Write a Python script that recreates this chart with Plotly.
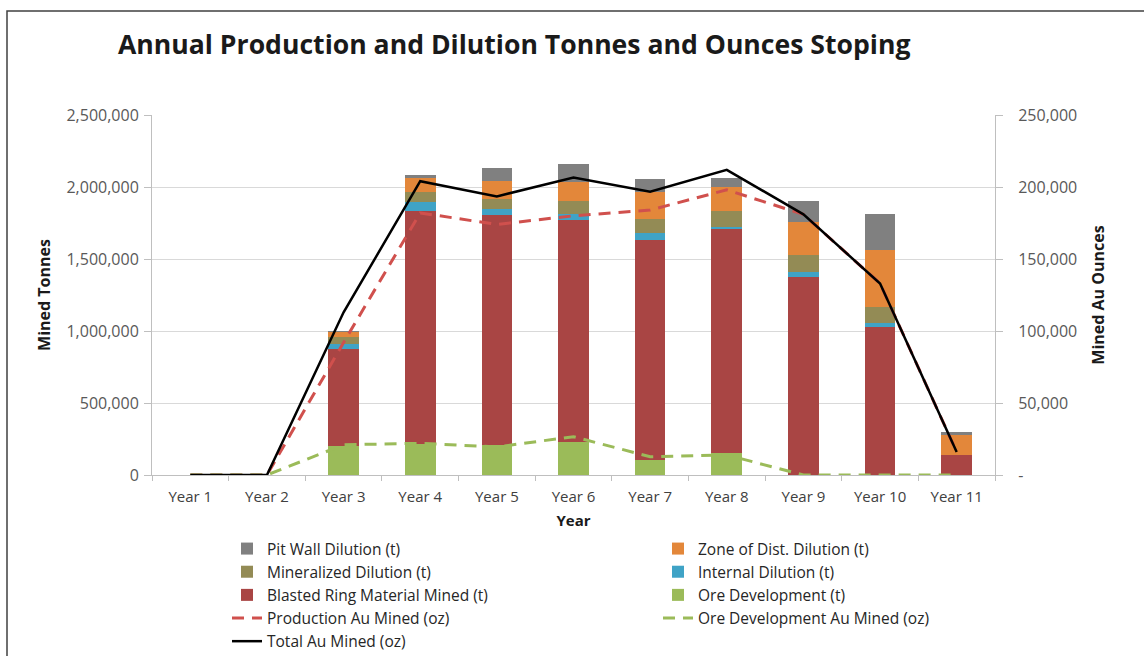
import plotly.graph_objects as go

years = ["Year 1", "Year 2", "Year 3", "Year 4", "Year 5", "Year 6",
         "Year 7", "Year 8", "Year 9", "Year 10", "Year 11"]

# Tonnes by material type (stacked, bottom to top)
ore_development_t = [0, 0, 201000, 215000, 208000, 228000, 104000, 155000, 0, 0, 0]
blasted_ring_t = [0, 0, 672000, 1620000, 1598000, 1543000, 1528000, 1553000, 1377000, 1030000, 139000]
internal_dilution_t = [0, 0, 35000, 63000, 41000, 39000, 46000, 16000, 35000, 23000, 0]
mineralized_dilution_t = [0, 0, 52000, 65000, 70000, 95000, 100000, 107000, 116000, 116000, 0]
zone_dist_dilution_t = [0, 0, 35000, 97000, 125000, 128000, 190000, 171000, 227000, 393000, 139000]
pit_wall_dilution_t = [0, 0, 5000, 23000, 88000, 127000, 90000, 58000, 148000, 248000, 23000]

# Gold ounces (secondary axis)
production_au_oz = [0, 0, 92000, 182000, 174000, 180000, 184000, 198000, 181000, 133000, 16000]
ore_dev_au_oz = [0, 0, 21000, 22000, 19500, 26600, 12700, 13900, 0, 0, 0]
total_au_oz = [0, 0, 113000, 204000, 193500, 206600, 196700, 211900, 181000, 133000, 16000]

left_ticks = [0, 500000, 1000000, 1500000, 2000000, 2500000]
left_tick_text = ["0", "500,000", "1,000,000", "1,500,000", "2,000,000", "2,500,000"]
right_ticks = [0, 50000, 100000, 150000, 200000, 250000]
right_tick_text = ["-", "50,000", "100,000", "150,000", "200,000", "250,000"]

FONT = "Open Sans"
W, H = 1144, 656
PL, PR, PT, PB = 152, 995, 115, 475  # plot area edges in pixels


def px_x(p):
    return (p - PL) / (PR - PL)


def px_y(p):
    return (PB - p) / (PB - PT)


fig = go.Figure()

# (name, values, colour, legend, rank)
bars = [
    ("Ore Development (t)", ore_development_t, "#9bbb59", "legend2", 3),
    ("Blasted Ring Material Mined (t)", blasted_ring_t, "#a94544", "legend", 3),
    ("Internal Dilution (t)", internal_dilution_t, "#3fa3c6", "legend2", 2),
    ("Mineralized Dilution (t)", mineralized_dilution_t, "#938b55", "legend", 2),
    ("Zone of Dist. Dilution (t)", zone_dist_dilution_t, "#e3873a", "legend2", 1),
    ("Pit Wall Dilution (t)", pit_wall_dilution_t, "#808080", "legend", 1),
]
for name, vals, color, leg, rank in bars:
    fig.add_trace(go.Bar(x=years, y=vals, name=name, marker_color=color,
                         marker_line_width=0, legend=leg, legendrank=rank))

fig.add_trace(go.Scatter(x=years, y=production_au_oz, name="Production Au Mined (oz)",
                         mode="lines", yaxis="y2", legend="legend", legendrank=4,
                         line=dict(color="#d0504d", width=3, dash="12px,8px")))
fig.add_trace(go.Scatter(x=years, y=ore_dev_au_oz, name="Ore Development Au Mined (oz)",
                         mode="lines", yaxis="y2", legend="legend2", legendrank=4,
                         line=dict(color="#9bbb59", width=3, dash="12px,8px")))
fig.add_trace(go.Scatter(x=years, y=total_au_oz, name="Total Au Mined (oz)",
                         mode="lines", yaxis="y2", legend="legend", legendrank=5,
                         line=dict(color="#000000", width=2.5)))

legend_style = dict(orientation="v", xanchor="left", yanchor="top",
                    y=px_y(532), traceorder="normal",
                    font=dict(family=FONT, size=15.5, color="#262626"),
                    bgcolor="rgba(0,0,0,0)", tracegroupgap=0)

fig.update_layout(
    width=W, height=H,
    margin=dict(l=PL, r=W - PR, t=PT, b=H - PB, autoexpand=False),
    paper_bgcolor="white", plot_bgcolor="white",
    barmode="stack", bargap=0.6,
    font=dict(family=FONT, size=15, color="#595959"),
    title=dict(text="<b>Annual Production and Dilution Tonnes and Ounces Stoping</b>",
               x=118 / W, xanchor="left", y=1 - 45 / H, yanchor="middle",
               font=dict(family=FONT, size=26.6, color="#1a1a1a")),
    xaxis=dict(showline=True, linecolor="#bfbfbf", linewidth=1,
               ticks="outside", tickson="boundaries", ticklen=5, tickcolor="#bfbfbf",
               ticklabelstandoff=8,
               tickfont=dict(size=15, color="#404040"),
               title=dict(text="<b>Year</b>", font=dict(size=15, color="#1a1a1a"), standoff=10)),
    yaxis=dict(range=[0, 2500000], tickvals=left_ticks, ticktext=left_tick_text,
               tickfont=dict(size=16, color="#595959"),
               showgrid=True, gridcolor="#d9d9d9", gridwidth=1,
               showline=True, linecolor="#bfbfbf", ticks="outside", ticklen=7,
               tickcolor="#bfbfbf", zeroline=False, ticklabelstandoff=2,
               title=dict(text="<b>Mined Tonnes</b>", font=dict(size=16, color="#1a1a1a"),
                          standoff=11)),
    yaxis2=dict(range=[0, 250000], overlaying="y", side="right",
                tickvals=right_ticks, ticktext=right_tick_text, showgrid=False,
                tickfont=dict(size=16, color="#595959"),
                showline=True, linecolor="#bfbfbf", ticks="outside", ticklen=7,
                tickcolor="#bfbfbf", zeroline=False, ticklabelstandoff=12,
                title=dict(text="<b>Mined Au Ounces</b>", font=dict(size=16, color="#1a1a1a"),
                           standoff=16)),
    legend=dict(legend_style, x=px_x(227)),
    legend2=dict(legend_style, x=px_x(658)),
    shapes=[dict(type="rect", xref="paper", yref="paper",
                 x0=px_x(7), x1=px_x(1160), y0=px_y(700), y1=px_y(11),
                 line=dict(color="#404040", width=1.5), layer="below")],
)

fig.write_html("out.html")
